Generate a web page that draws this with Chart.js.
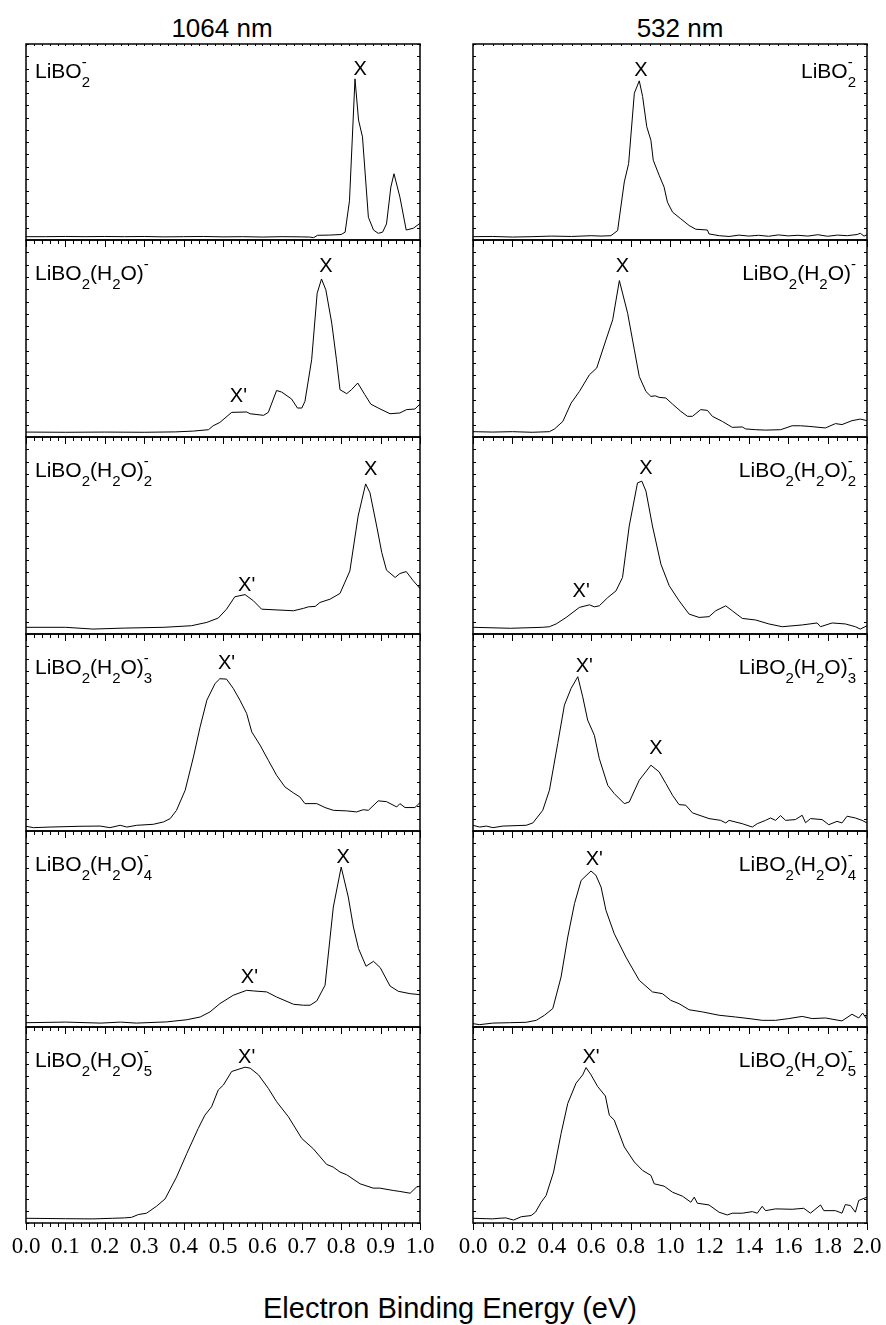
<!DOCTYPE html>
<html lang="en">
<head>
<meta charset="UTF-8">
<title>LiBO2(H2O)n- photoelectron spectra</title>
<script src="https://cdn.jsdelivr.net/npm/chart.js"></script>
<style>
  body { margin: 0; background: #fff; }
  #fig { position: relative; width: 886px; height: 1325px; overflow: hidden; }
  #fig canvas { position: absolute; }
  .txt { position: absolute; font-family: "Liberation Sans", Arial, sans-serif; color: #000;
         line-height: 1; white-space: nowrap; transform: translateX(-50%); }
</style>
</head>
<body>
<div id="fig">
  <div class="txt" style="left:222px; top:15px; font-size:26px;">1064 nm</div>
  <div class="txt" style="left:680px; top:15px; font-size:26px;">532 nm</div>
  <div class="txt" style="left:450px; top:1294px; font-size:29px;">Electron Binding Energy (eV)</div>
</div>
<script>
// species, top to bottom  ({sub|sup} = stacked subscript / superscript)
const species = [
  'LiBO{2|-}',
  'LiBO{2|}(H{2|}O){|-}',
  'LiBO{2|}(H{2|}O){2|-}',
  'LiBO{2|}(H{2|}O){3|-}',
  'LiBO{2|}(H{2|}O){4|-}',
  'LiBO{2|}(H{2|}O){5|-}'
];
const ticks1064 = ['0.0','0.1','0.2','0.3','0.4','0.5','0.6','0.7','0.8','0.9','1.0'];
const ticks532 = ['0.0','0.2','0.4','0.6','0.8','1.0','1.2','1.4','1.6','1.8','2.0'];

// [binding energy (eV), relative intensity]
const s1064_0 = [[0,0.017],[0.05,0.017],[0.1,0.018],[0.15,0.017],[0.2,0.018],[0.25,0.017],[0.3,0.018],[0.35,0.016],[0.4,0.017],[0.45,0.018],[0.5,0.016],[0.55,0.017],[0.6,0.015],[0.65,0.017],[0.7,0.016],[0.72,0.015],[0.73,0.012],[0.74,0.024],[0.77,0.025],[0.8,0.028],[0.81,0.04],[0.821,0.2],[0.835,0.822],[0.844,0.612],[0.854,0.526],[0.869,0.116],[0.882,0.051],[0.894,0.034],[0.905,0.04],[0.915,0.082],[0.926,0.27],[0.934,0.338],[0.949,0.219],[0.965,0.051],[0.983,0.06],[1.0,0.085]];
const s1064_1 = [[0,0.025],[0.1,0.024],[0.2,0.025],[0.3,0.024],[0.38,0.026],[0.425,0.03],[0.463,0.037],[0.475,0.057],[0.492,0.074],[0.522,0.125],[0.56,0.127],[0.569,0.118],[0.603,0.11],[0.615,0.125],[0.636,0.236],[0.649,0.228],[0.674,0.193],[0.689,0.147],[0.7,0.147],[0.708,0.181],[0.725,0.392],[0.739,0.73],[0.75,0.802],[0.761,0.747],[0.776,0.578],[0.788,0.392],[0.797,0.24],[0.814,0.22],[0.826,0.24],[0.842,0.274],[0.86,0.215],[0.875,0.167],[0.894,0.147],[0.924,0.118],[0.949,0.122],[0.966,0.139],[0.987,0.142],[1.0,0.167]];
const s1064_2 = [[0,0.034],[0.1,0.034],[0.17,0.025],[0.25,0.03],[0.35,0.034],[0.42,0.042],[0.459,0.059],[0.488,0.081],[0.509,0.126],[0.53,0.189],[0.556,0.2],[0.577,0.169],[0.598,0.126],[0.679,0.118],[0.704,0.13],[0.717,0.138],[0.734,0.14],[0.746,0.16],[0.772,0.177],[0.797,0.206],[0.822,0.32],[0.843,0.599],[0.862,0.762],[0.873,0.717],[0.89,0.548],[0.903,0.413],[0.915,0.324],[0.937,0.287],[0.949,0.307],[0.965,0.317],[0.983,0.27],[1.0,0.231]];
const s1064_3 = [[0,0.024],[0.019,0.017],[0.061,0.02],[0.137,0.024],[0.188,0.025],[0.213,0.017],[0.239,0.029],[0.256,0.02],[0.281,0.029],[0.323,0.034],[0.349,0.046],[0.366,0.063],[0.382,0.105],[0.404,0.207],[0.425,0.376],[0.442,0.529],[0.459,0.664],[0.48,0.749],[0.492,0.773],[0.509,0.771],[0.526,0.724],[0.543,0.664],[0.56,0.597],[0.573,0.503],[0.594,0.436],[0.615,0.359],[0.636,0.283],[0.657,0.224],[0.679,0.193],[0.695,0.173],[0.708,0.139],[0.738,0.139],[0.759,0.119],[0.78,0.105],[0.814,0.102],[0.839,0.097],[0.856,0.108],[0.869,0.105],[0.894,0.153],[0.915,0.149],[0.941,0.122],[0.949,0.139],[0.962,0.119],[0.987,0.119],[1.0,0.144]];
const s1064_4 = [[0,0.022],[0.1,0.025],[0.19,0.02],[0.24,0.025],[0.28,0.02],[0.357,0.026],[0.408,0.037],[0.442,0.051],[0.467,0.077],[0.492,0.119],[0.526,0.162],[0.56,0.187],[0.577,0.184],[0.611,0.179],[0.636,0.153],[0.679,0.116],[0.704,0.111],[0.721,0.111],[0.738,0.133],[0.759,0.213],[0.78,0.612],[0.8,0.816],[0.818,0.663],[0.831,0.51],[0.844,0.4],[0.863,0.31],[0.882,0.335],[0.899,0.303],[0.924,0.209],[0.945,0.182],[0.975,0.17],[1.0,0.165]];
const s1064_5 = [[0,0.024],[0.1,0.022],[0.17,0.021],[0.22,0.024],[0.25,0.026],[0.268,0.029],[0.285,0.043],[0.306,0.05],[0.331,0.085],[0.353,0.123],[0.382,0.234],[0.408,0.354],[0.437,0.482],[0.454,0.55],[0.471,0.593],[0.488,0.679],[0.501,0.704],[0.522,0.773],[0.556,0.795],[0.569,0.79],[0.59,0.756],[0.615,0.687],[0.636,0.619],[0.666,0.542],[0.7,0.431],[0.729,0.379],[0.763,0.299],[0.78,0.285],[0.797,0.26],[0.814,0.246],[0.848,0.2],[0.881,0.178],[0.898,0.178],[0.932,0.166],[0.949,0.161],[0.975,0.152],[0.991,0.183],[1.0,0.188]];

const s532_0 = [[0,0.017],[0.1,0.018],[0.2,0.015],[0.3,0.017],[0.4,0.02],[0.5,0.018],[0.6,0.022],[0.65,0.02],[0.7,0.022],[0.734,0.048],[0.768,0.296],[0.79,0.39],[0.819,0.749],[0.844,0.812],[0.861,0.732],[0.882,0.578],[0.903,0.509],[0.915,0.407],[0.945,0.33],[0.97,0.27],[0.987,0.193],[1.013,0.142],[1.055,0.108],[1.097,0.074],[1.131,0.055],[1.19,0.051],[1.198,0.031],[1.25,0.022],[1.3,0.018],[1.35,0.025],[1.4,0.02],[1.45,0.024],[1.5,0.019],[1.55,0.026],[1.6,0.021],[1.65,0.024],[1.7,0.02],[1.75,0.027],[1.8,0.019],[1.85,0.025],[1.9,0.022],[1.95,0.028],[1.966,0.034],[1.985,0.02],[2.0,0.027]];
const s532_1 = [[0,0.027],[0.1,0.025],[0.2,0.027],[0.3,0.024],[0.388,0.027],[0.414,0.041],[0.456,0.079],[0.498,0.172],[0.54,0.231],[0.591,0.316],[0.628,0.35],[0.675,0.493],[0.709,0.595],[0.743,0.794],[0.785,0.628],[0.819,0.443],[0.844,0.307],[0.878,0.231],[0.903,0.206],[0.925,0.209],[0.945,0.201],[0.979,0.198],[1.013,0.167],[1.055,0.13],[1.089,0.105],[1.114,0.105],[1.156,0.139],[1.19,0.135],[1.215,0.105],[1.266,0.079],[1.316,0.049],[1.367,0.051],[1.384,0.041],[1.435,0.037],[1.485,0.035],[1.561,0.037],[1.62,0.057],[1.663,0.057],[1.705,0.054],[1.789,0.046],[1.84,0.068],[1.873,0.063],[1.924,0.083],[1.966,0.091],[2.0,0.083]];
const s532_2 = [[0,0.034],[0.19,0.029],[0.354,0.034],[0.388,0.037],[0.422,0.051],[0.473,0.084],[0.54,0.135],[0.591,0.148],[0.616,0.138],[0.641,0.143],[0.684,0.185],[0.726,0.219],[0.759,0.287],[0.793,0.548],[0.835,0.767],[0.857,0.776],[0.878,0.725],[0.911,0.548],[0.954,0.354],[0.996,0.245],[1.046,0.169],[1.097,0.101],[1.148,0.084],[1.198,0.088],[1.232,0.118],[1.283,0.143],[1.316,0.118],[1.367,0.079],[1.435,0.071],[1.502,0.051],[1.57,0.037],[1.671,0.046],[1.747,0.056],[1.764,0.037],[1.823,0.056],[1.89,0.051],[1.941,0.037],[1.966,0.025],[2.0,0.042]];
const s532_3 = [[0,0.029],[0.034,0.02],[0.068,0.025],[0.101,0.017],[0.152,0.025],[0.27,0.029],[0.304,0.041],[0.354,0.105],[0.388,0.207],[0.43,0.444],[0.464,0.639],[0.498,0.724],[0.532,0.783],[0.557,0.681],[0.582,0.563],[0.616,0.486],[0.641,0.368],[0.684,0.232],[0.717,0.19],[0.768,0.139],[0.793,0.147],[0.844,0.258],[0.903,0.334],[0.945,0.3],[0.979,0.241],[1.013,0.181],[1.046,0.134],[1.08,0.131],[1.114,0.092],[1.198,0.063],[1.257,0.054],[1.283,0.041],[1.3,0.054],[1.367,0.037],[1.418,0.02],[1.443,0.037],[1.485,0.054],[1.51,0.066],[1.536,0.054],[1.561,0.078],[1.587,0.054],[1.637,0.058],[1.671,0.08],[1.688,0.042],[1.713,0.063],[1.772,0.058],[1.806,0.032],[1.848,0.049],[1.873,0.041],[1.899,0.075],[1.941,0.066],[1.975,0.054],[2.0,0.041]];
const s532_4 = [[0,0.017],[0.034,0.012],[0.101,0.02],[0.186,0.022],[0.27,0.024],[0.321,0.034],[0.363,0.06],[0.405,0.094],[0.447,0.255],[0.481,0.459],[0.515,0.629],[0.549,0.748],[0.599,0.796],[0.624,0.774],[0.65,0.714],[0.675,0.595],[0.717,0.476],[0.776,0.357],[0.844,0.238],[0.911,0.179],[0.962,0.17],[1.004,0.136],[1.046,0.119],[1.097,0.088],[1.165,0.077],[1.249,0.06],[1.333,0.051],[1.401,0.043],[1.468,0.034],[1.536,0.034],[1.603,0.043],[1.671,0.054],[1.722,0.043],[1.789,0.046],[1.873,0.031],[1.924,0.065],[1.958,0.046],[1.978,0.071],[2.0,0.039]];
const s532_5 = [[0,0.024],[0.098,0.021],[0.132,0.024],[0.166,0.026],[0.206,0.015],[0.245,0.032],[0.295,0.038],[0.317,0.055],[0.346,0.106],[0.371,0.14],[0.409,0.26],[0.447,0.456],[0.481,0.61],[0.523,0.713],[0.557,0.756],[0.574,0.793],[0.599,0.756],[0.633,0.696],[0.672,0.648],[0.692,0.55],[0.717,0.525],[0.768,0.388],[0.819,0.311],[0.861,0.268],[0.903,0.243],[0.92,0.2],[0.97,0.188],[1.013,0.157],[1.063,0.137],[1.106,0.106],[1.123,0.132],[1.139,0.101],[1.198,0.092],[1.249,0.055],[1.291,0.041],[1.316,0.05],[1.367,0.05],[1.418,0.058],[1.443,0.05],[1.468,0.085],[1.485,0.063],[1.536,0.072],[1.62,0.07],[1.679,0.075],[1.713,0.05],[1.764,0.092],[1.781,0.063],[1.84,0.063],[1.873,0.05],[1.89,0.094],[1.916,0.089],[1.941,0.055],[1.958,0.115],[2.0,0.132]];

// peak assignments: [label, energy, height]
const peaks1064 = [
  [['X', 0.848, 0.843]],
  [['X', 0.761, 0.836], ["X'", 0.539, 0.176]],
  [['X', 0.875, 0.807], ["X'", 0.560, 0.22]],
  [["X'", 0.509, 0.821]],
  [['X', 0.805, 0.838], ["X'", 0.567, 0.226]],
  [["X'", 0.560, 0.817]]
];
const peaks532 = [
  [['X', 0.852, 0.837]],
  [['X', 0.759, 0.836]],
  [['X', 0.878, 0.812], ["X'", 0.549, 0.186]],
  [["X'", 0.565, 0.809], ['X', 0.928, 0.391]],
  [["X'", 0.616, 0.827]],
  [["X'", 0.599, 0.817]]
];

// ---- layout ----
const panelEdges = [44, 240, 437, 634, 831, 1027, 1223];
const panelW = 394;
const PADX = 30, PADT = 6, PADB = 10, AXIS_H = 40;
const SANS = '"Liberation Sans", Arial, sans-serif';

const columns = [
  { left: 26, max: 1, step: 0.1, minor: 0.02, ticks: ticks1064, align: 'left',
    series: [s1064_0, s1064_1, s1064_2, s1064_3, s1064_4, s1064_5], peaks: peaks1064 },
  { left: 473, max: 2, step: 0.2, minor: 0.05, ticks: ticks532, align: 'right',
    series: [s532_0, s532_1, s532_2, s532_3, s532_4, s532_5], peaks: peaks532 }
];

function drawFormula(ctx, src, x, y, align) {
  const parts = [];
  src.replace(/([^{]+)|\{([^|}]*)\|([^}]*)\}/g, (m, txt, sub, sup) => {
    parts.push(txt !== undefined ? { t: txt } : { sub: sub, sup: sup });
    return m;
  });
  const big = '21px ' + SANS, small = '15px ' + SANS;
  const widthOf = p => {
    if (p.t) { ctx.font = big; return ctx.measureText(p.t).width; }
    ctx.font = small;
    return Math.max(ctx.measureText(p.sub).width, ctx.measureText(p.sup).width);
  };
  const total = parts.reduce((s, p) => s + widthOf(p), 0);
  let cx = align === 'right' ? x - total : x;
  ctx.textAlign = 'left';
  ctx.textBaseline = 'alphabetic';
  for (const p of parts) {
    const w = widthOf(p);
    if (p.t) { ctx.font = big; ctx.fillText(p.t, cx, y); }
    else {
      ctx.font = small;
      if (p.sub) ctx.fillText(p.sub, cx, y + 9);
      if (p.sup) ctx.fillText(p.sup, cx, y - 11);
    }
    cx += w;
  }
}

function panelPlugin(col, row) {
  return {
    id: 'panel' + row,
    afterDatasetsDraw(chart) {
      const { ctx, chartArea: a, scales: { x, y } } = chart;
      ctx.save();
      ctx.strokeStyle = '#000';
      ctx.fillStyle = '#000';
      // x ticks: tiny inward ones on top, outward ones below the bottom border
      ctx.lineWidth = 1;
      const n = Math.round(col.max / col.minor);
      const per = Math.round(col.step / col.minor);
      ctx.beginPath();
      for (let i = 0; i <= n; i++) {
        const px = Math.round(x.getPixelForValue(i * col.minor)) + 0.5;
        const len = i % per === 0 ? 7 : 4;
        ctx.moveTo(px, a.bottom); ctx.lineTo(px, a.bottom + len);
        ctx.moveTo(px, a.top); ctx.lineTo(px, a.top + 2);
      }
      // y ticks, inward on both sides
      for (let j = 0; j <= 16; j++) {
        const py = Math.round(y.getPixelForValue(j / 16)) + 0.5;
        ctx.moveTo(a.left, py); ctx.lineTo(a.left + 3, py);
        ctx.moveTo(a.right, py); ctx.lineTo(a.right - 3, py);
      }
      ctx.stroke();
      // frame
      ctx.lineWidth = 1.5;
      ctx.strokeRect(a.left, a.top, a.right - a.left, a.bottom - a.top);
      // species label
      const dy = row === 0 ? 34 : 40;
      if (col.align === 'left') drawFormula(ctx, species[row], a.left + 9, a.top + dy, 'left');
      else drawFormula(ctx, species[row], a.right - 11, a.top + dy, 'right');
      // peak labels
      ctx.font = '20px ' + SANS;
      ctx.textAlign = 'center';
      ctx.textBaseline = 'alphabetic';
      for (const [t, e, h] of col.peaks[row]) {
        ctx.fillText(t, x.getPixelForValue(e), y.getPixelForValue(h));
      }
      ctx.restore();
    }
  };
}

const fig = document.getElementById('fig');
columns.forEach(col => {
  col.series.forEach((pts, row) => {
    const top = panelEdges[row];
    const h = panelEdges[row + 1] - top;
    const last = row === col.series.length - 1;
    const cv = document.createElement('canvas');
    cv.width = panelW + 2 * PADX;
    cv.height = h + PADT + PADB + (last ? AXIS_H : 0);
    cv.style.left = (col.left - PADX) + 'px';
    cv.style.top = (top - PADT) + 'px';
    fig.appendChild(cv);

    new Chart(cv, {
      type: 'line',
      data: {
        datasets: [{
          data: pts.map(p => ({ x: p[0], y: p[1] })),
          borderColor: '#000',
          borderWidth: 1,
          pointRadius: 0,
          tension: 0,
          fill: false
        }]
      },
      options: {
        responsive: false,
        animation: false,
        events: [],
        layout: { padding: { left: PADX, right: PADX, top: PADT, bottom: PADB } },
        plugins: { legend: { display: false }, tooltip: { enabled: false } },
        scales: {
          x: {
            type: 'linear', min: 0, max: col.max, display: last,
            grid: { display: false, drawTicks: false },
            border: { display: false },
            ticks: {
              stepSize: col.step, autoSkip: false, maxRotation: 0, minRotation: 0,
              padding: 10, color: '#000',
              font: { family: '"Liberation Serif", "Times New Roman", serif', size: 23 },
              callback: (v, i) => col.ticks[i]
            },
            afterFit: s => {
              s.height = last ? AXIS_H : 0;
              s.paddingLeft = 0;
              s.paddingRight = 0;
            }
          },
          y: { type: 'linear', min: 0, max: 1, display: false }
        }
      },
      plugins: [panelPlugin(col, row)]
    });
  });
});
</script>
</body>
</html>
